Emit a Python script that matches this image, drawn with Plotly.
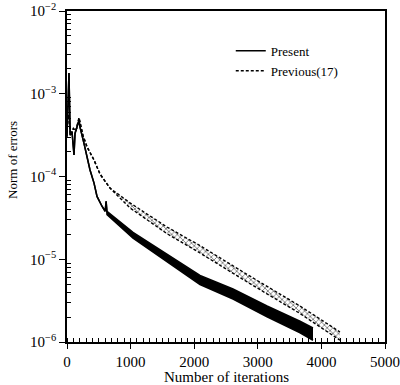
import plotly.graph_objects as go

# ---- data ----
present_x = [0, 31, 50, 79, 110, 126, 189, 204, 267, 314, 362, 425, 472, 550, 600, 615,
             629, 1038, 1305, 1572, 1824, 2091, 2610, 3145, 3664, 3868]
present_upper = [3.02e-4, 1.78e-3, 3.16e-4, 3.47e-4, 1.82e-4, 3.31e-4, 4.79e-4, 3.98e-4,
                 2.51e-4, 1.74e-4, 1.20e-4, 8.32e-5, 5.75e-5, 4.37e-5, 3.80e-5, 5.01e-5,
                 3.80e-5, 2.11e-5, 1.55e-5, 1.16e-5, 8.71e-6, 6.38e-6, 4.37e-6, 2.72e-6,
                 1.78e-6, 1.48e-6]
present_lower = [3.02e-4, 1.78e-3, 3.16e-4, 3.47e-4, 1.82e-4, 3.31e-4, 4.79e-4, 3.98e-4,
                 2.51e-4, 1.74e-4, 1.20e-4, 8.32e-5, 5.75e-5, 4.37e-5, 3.80e-5, 5.01e-5,
                 3.47e-5, 1.80e-5, 1.29e-5, 9.44e-6, 6.92e-6, 4.95e-6, 3.31e-6, 2.02e-6,
                 1.29e-6, 1.05e-6]

previous_x = [0, 20, 60, 100, 140, 189, 250, 314, 425, 519, 676, 991, 1572, 2091, 2877,
              3664, 4292]
previous_upper = [4.47e-4, 5.62e-4, 3.16e-4, 3.80e-4, 3.55e-4, 5.13e-4, 3.16e-4, 2.29e-4,
                  1.58e-4, 1.07e-4, 7.24e-5, 4.79e-5, 2.45e-5, 1.46e-5, 6.24e-6, 2.72e-6,
                  1.32e-6]
previous_lower = [4.47e-4, 5.62e-4, 3.16e-4, 3.80e-4, 3.55e-4, 5.13e-4, 3.16e-4, 2.29e-4,
                  1.58e-4, 1.07e-4, 7.24e-5, 4.17e-5, 2.04e-5, 1.19e-5, 5.07e-6, 2.21e-6,
                  1.05e-6]

y_tickvals = [1e-6, 1e-5, 1e-4, 1e-3, 1e-2]
y_ticktext = ["10<sup>−6</sup>", "10<sup>−5</sup>", "10<sup>−4</sup>", "10<sup>−3</sup>", "10<sup>−2</sup>"]
x_tickvals = [0, 1000, 2000, 3000, 4000, 5000]

FONT = "Liberation Serif"

# minor log ticks at 2..9 of each decade (axis decoration only)
y_minor = [m * d for d in y_tickvals[:-1] for m in range(2, 10)]

fig = go.Figure()

# Present: oscillating band drawn as filled envelope
fig.add_trace(go.Scatter(x=present_x, y=present_upper, mode="lines", name="Present",
                         legendrank=1, line=dict(color="black", width=1.5)))
fig.add_trace(go.Scatter(x=present_x, y=present_lower, mode="lines", showlegend=False,
                         line=dict(color="black", width=1.5), fill="tonexty",
                         fillcolor="black"))

# Previous(17): dotted band
fig.add_trace(go.Scatter(x=previous_x, y=previous_upper, mode="lines", name="Previous(17)",
                         legendrank=2, line=dict(color="black", width=1.4, dash="3px,2px")))
fig.add_trace(go.Scatter(x=previous_x, y=previous_lower, mode="lines", showlegend=False,
                         line=dict(color="black", width=1.4, dash="3px,2px"), fill="tonexty",
                         fillcolor="rgba(0,0,0,0)",
                         fillpattern=dict(shape="x", fgcolor="black", bgcolor="white",
                                          size=4, solidity=0.4)))

fig.update_layout(
    width=400, height=385,
    margin=dict(l=67, r=15, t=11, b=43),
    paper_bgcolor="white", plot_bgcolor="white",
    font=dict(family=FONT, color="black", size=14),
    legend=dict(x=0.515, y=0.925, xanchor="left", yanchor="top", traceorder="normal",
                bgcolor="rgba(0,0,0,0)", font=dict(family=FONT, size=13, color="black"),
                itemwidth=30, tracegroupgap=0),
    xaxis=dict(range=[0, 5000], tickvals=x_tickvals, ticks="outside", ticklen=5,
               tickwidth=1.2, tickcolor="black", automargin=False,
               showline=True, linecolor="black", linewidth=1.5, mirror=True,
               showgrid=False, zeroline=False,
               minor=dict(dtick=100, ticks="inside", ticklen=4, tickcolor="black",
                          tickwidth=1, showgrid=False),
               tickfont=dict(family=FONT, size=15, color="black")),
    yaxis=dict(type="log", range=[-6, -2], tickvals=y_tickvals, ticktext=y_ticktext,
               ticks="outside", ticklen=6, tickwidth=1.2, tickcolor="black", automargin=False,
               showline=True, linecolor="black", linewidth=1.5, mirror=True,
               showgrid=False, zeroline=False,
               minor=dict(tickvals=y_minor, ticks="inside", ticklen=4, tickcolor="black",
                          tickwidth=1, showgrid=False),
               tickfont=dict(family=FONT, size=15, color="black")),
    annotations=[
        dict(text="Norm of errors", textangle=-90, xref="paper", yref="paper",
             x=-0.17, y=0.55, xanchor="center", yanchor="middle",
             showarrow=False, font=dict(family=FONT, size=13, color="black")),
        dict(text="Number of iterations", xref="paper", yref="paper",
             x=0.5, y=-0.105, xanchor="center", yanchor="middle",
             showarrow=False, font=dict(family=FONT, size=15, color="black")),
    ],
)

fig.write_html("out.html")
